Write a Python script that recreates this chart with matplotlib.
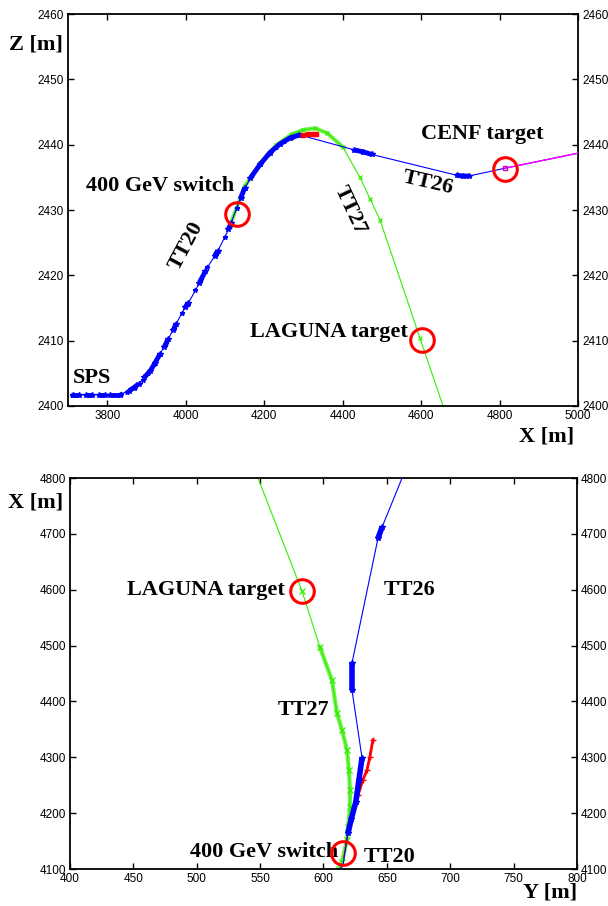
"""
Beam line geometry: elevation view (Z vs X) and plan view (X vs Y)
"""
import matplotlib.pyplot as plt

# ---- top panel: Z [m] vs X [m] ----
# TT20 (blue)
tt20_x = [3710, 3835, 3850, 3870, 3890, 3905, 3920, 3935, 3950, 3970, 3990,
          4005, 4025, 4040, 4055, 4080, 4100, 4113, 4130, 4150, 4170, 4190,
          4210, 4230, 4250, 4270, 4290]
tt20_z = [2401.7, 2401.8, 2402.2, 2402.9, 2404.0, 2405.0, 2406.4, 2408.0,
          2409.6, 2411.9, 2414.2, 2415.6, 2417.7, 2419.4, 2421.2, 2423.5,
          2425.9, 2427.5, 2430.3, 2433.3, 2435.3, 2437.0, 2438.5, 2439.6,
          2440.6, 2441.2, 2441.5]
# dense magnet clusters on TT20 / TT26, as (x list, z list)
blue_top_clusters = [
    ([3712, 3728], [2401.7, 2401.7]),
    ([3745, 3762], [2401.7, 2401.7]),
    ([3778, 3795], [2401.7, 2401.7]),
    ([3808, 3832], [2401.7, 2401.7]),
    ([3855, 3868, 3880], [2402.3, 2402.8, 2403.4]),
    ([3895, 3910, 3922, 3935], [2404.4, 2405.4, 2406.6, 2408.0]),
    ([3945, 3955], [2409.0, 2410.2]),
    ([3968, 3976], [2411.6, 2412.6]),
    ([3999, 4006], [2415.1, 2415.8]),
    ([4035, 4050], [2418.9, 2420.6]),
    ([4074, 4082], [2423.0, 2423.8]),
    ([4109, 4116], [2427.1, 2428.0]),
    ([4140, 4150], [2431.8, 2433.3]),
    ([4165, 4190, 4215, 4240, 4265, 4290],
     [2434.9, 2437.0, 2438.8, 2440.1, 2441.0, 2441.5]),
    ([4430, 4452, 4475], [2439.2, 2438.9, 2438.5]),
    ([4692, 4707, 4722], [2435.3, 2435.2, 2435.2]),
]
# TT26 (blue line)
tt26_x = [4290, 4430, 4475, 4692, 4722, 4814, 5000]
tt26_z = [2441.5, 2439.2, 2438.5, 2435.3, 2435.2, 2436.4, 2438.7]
# TT27 (green)
tt27_x = [4115, 4150, 4190, 4230, 4270, 4300, 4330, 4360, 4400, 4444,
          4470, 4495, 4520, 4550, 4597, 4656]
tt27_z = [2428.0, 2433.6, 2437.2, 2439.9, 2441.6, 2442.3, 2442.5, 2441.8,
          2439.7, 2435.0, 2431.7, 2428.5, 2424.1, 2418.8, 2410.4, 2400.0]
tt27_band_n = 9     # leading points of TT27 drawn as a dense band
tt27_mark_n = 12    # leading points of TT27 that carry markers
# short red branch near the crest
red_top_x = [4300, 4312, 4324, 4332]
red_top_z = [2441.5, 2441.6, 2441.6, 2441.6]
# magenta tail after CENF target
mag_x = [4814, 5000]
mag_z = [2436.4, 2438.7]
# target / switch positions (X, Z)
circ_top_x = [4130, 4814, 4602]
circ_top_z = [2429.4, 2436.3, 2410.1]

# ---- bottom panel: X [m] vs Y [m] ----
b_green_y = [548.3, 583.0, 597.2, 606.7, 610.6, 614.6, 618.5, 620.1, 620.9,
             620.9, 619.3, 618.5, 614.6, 612.5]
b_green_x = [4800, 4598, 4497, 4438, 4379, 4349, 4313, 4277, 4241, 4211,
             4175, 4152, 4113, 4100]
b_blue_y = [662.0, 646.2, 643.0, 622.5, 622.5, 630.4, 627.0, 624.9, 619.3,
            615.4, 613.0]
b_blue_x = [4800, 4712, 4692, 4469, 4420, 4299, 4247, 4206, 4164, 4107, 4100]
blue_bot_clusters = [
    ([646.2, 643.0], [4712, 4692]),
    ([622.5, 622.5], [4469, 4420]),
    ([630.4, 628.0, 625.5, 622.0, 619.3], [4299, 4260, 4220, 4190, 4164]),
]
b_red_y = [616.0, 618.0, 622.0, 627.2, 631.0, 634.3, 636.5, 639.0]
b_red_x = [4120, 4150, 4190, 4232, 4259, 4277, 4300, 4331]
circ_bot_y = [583.0, 615.4]
circ_bot_x = [4598, 4129]

BLUE = "#0000ff"
GREEN = "#33ee00"
RED = "#ff0000"
SERIF = "Liberation Serif"
SANS = "Liberation Sans"


def style_axes(ax):
    for s in ax.spines.values():
        s.set_linewidth(1.3)
    ax.tick_params(direction="in", length=4, width=1.0, top=True, right=True,
                   labelright=True, labelsize=8.5, pad=3)
    for lab in ax.get_xticklabels() + ax.get_yticklabels():
        lab.set_fontfamily(SANS)


def main():
    fig = plt.figure(figsize=(6.08, 9.06), dpi=100)
    lbl = dict(fontfamily=SERIF, fontweight="bold", fontsize=16,
               ha="center", va="center")

    # top panel
    ax1 = fig.add_axes([0.1118, 0.5519, 0.8389, 0.4326])
    nb, nm = tt27_band_n, tt27_mark_n
    ax1.plot(tt27_x, tt27_z, "-", color=GREEN, lw=0.8, zorder=2)
    ax1.plot(tt27_x[:nb], tt27_z[:nb], "-", color=GREEN, lw=2.8, alpha=0.7, zorder=2)
    ax1.plot(tt27_x[:nm], tt27_z[:nm], "x", color=GREEN, ms=3.5, mew=0.9, zorder=2)
    ax1.plot(tt27_x[-2:-1], tt27_z[-2:-1], "x", color=GREEN, ms=3, mew=0.8, zorder=2)
    ax1.plot(tt20_x, tt20_z, "-*", color=BLUE, lw=0.8, ms=3.5, zorder=3)
    ax1.plot(tt26_x, tt26_z, "-", color=BLUE, lw=0.8, zorder=3)
    for cx, cz in blue_top_clusters:
        ax1.plot(cx, cz, "-*", color=BLUE, lw=3.5, ms=4, solid_capstyle="butt", zorder=3)
    ax1.plot(red_top_x, red_top_z, "-s", color=RED, lw=0.8, ms=2.5, zorder=4)
    ax1.plot(mag_x, mag_z, "-", color="#ff00ff", lw=1.0, zorder=4)
    ax1.plot(mag_x[:1], mag_z[:1], "s", color="#cc00cc", ms=3, mfc="none", zorder=4)
    ax1.plot(circ_top_x, circ_top_z, "o", ms=17, mfc="none", mec=RED, mew=2.2, zorder=5)
    ax1.set_xlim(3700, 5000)
    ax1.set_ylim(2400, 2460)
    ax1.set_xticks([3800, 4000, 4200, 4400, 4600, 4800, 5000])
    ax1.set_yticks([2400, 2410, 2420, 2430, 2440, 2450, 2460])
    style_axes(ax1)
    ax1.text(3935, 2433.7, "400 GeV switch", **lbl)
    ax1.text(4003, 2424.5, "TT20", rotation=62, **lbl)
    ax1.text(4419, 2430.0, "TT27", rotation=-65, **lbl)
    ax1.text(4618, 2434.1, "TT26", rotation=-13, **lbl)
    ax1.text(4755, 2441.6, "CENF target", **lbl)
    ax1.text(4365, 2411.3, "LAGUNA target", **lbl)
    ax1.text(3761, 2404.3, "SPS", **lbl)

    # bottom panel
    ax2 = fig.add_axes([0.1151, 0.0408, 0.8339, 0.4316])
    ax2.plot(b_green_y, b_green_x, "-", color=GREEN, lw=0.8, zorder=2)
    ax2.plot(b_green_y[2:], b_green_x[2:], "-", color=GREEN, lw=3, alpha=0.7, zorder=2)
    ax2.plot(b_green_y[1:], b_green_x[1:], "x", color=GREEN, ms=4, mew=0.9, zorder=2)
    ax2.plot(b_red_y, b_red_x, "-", color=RED, lw=0.8, zorder=3)
    ax2.plot(b_red_y[3:], b_red_x[3:], "-+", color=RED, lw=2.0, ms=5, mew=1.0, zorder=3)
    ax2.plot(b_blue_y, b_blue_x, "-", color=BLUE, lw=0.8, zorder=4)
    for cy, cx in blue_bot_clusters:
        ax2.plot(cy, cx, "-*", color=BLUE, lw=4, ms=4, solid_capstyle="butt", zorder=4)
    ax2.plot(circ_bot_y, circ_bot_x, "o", ms=17, mfc="none", mec=RED, mew=2.2, zorder=5)
    ax2.set_xlim(400, 800)
    ax2.set_ylim(4100, 4800)
    ax2.set_xticks([400, 450, 500, 550, 600, 650, 700, 750, 800])
    ax2.set_yticks([4100, 4200, 4300, 4400, 4500, 4600, 4700, 4800])
    style_axes(ax2)
    ax2.text(507, 4599, "LAGUNA target", **lbl)
    ax2.text(668, 4599, "TT26", **lbl)
    ax2.text(584.6, 4385, "TT27", **lbl)
    ax2.text(553, 4130, "400 GeV switch", **lbl)
    ax2.text(652.5, 4121, "TT20", **lbl)

    axl = dict(fontfamily=SERIF, fontweight="bold", fontsize=16,
               ha="center", va="center")
    fig.text(36 / 608, 1 - 45 / 906, "Z [m]", **axl)
    fig.text(547 / 608, 1 - 437 / 906, "X [m]", **axl)
    fig.text(36 / 608, 1 - 503 / 906, "X [m]", **axl)
    fig.text(550 / 608, 1 - 893 / 906, "Y [m]", **axl)

    fig.savefig("out.png", dpi=100)
    plt.close(fig)


if __name__ == "__main__":
    main()
